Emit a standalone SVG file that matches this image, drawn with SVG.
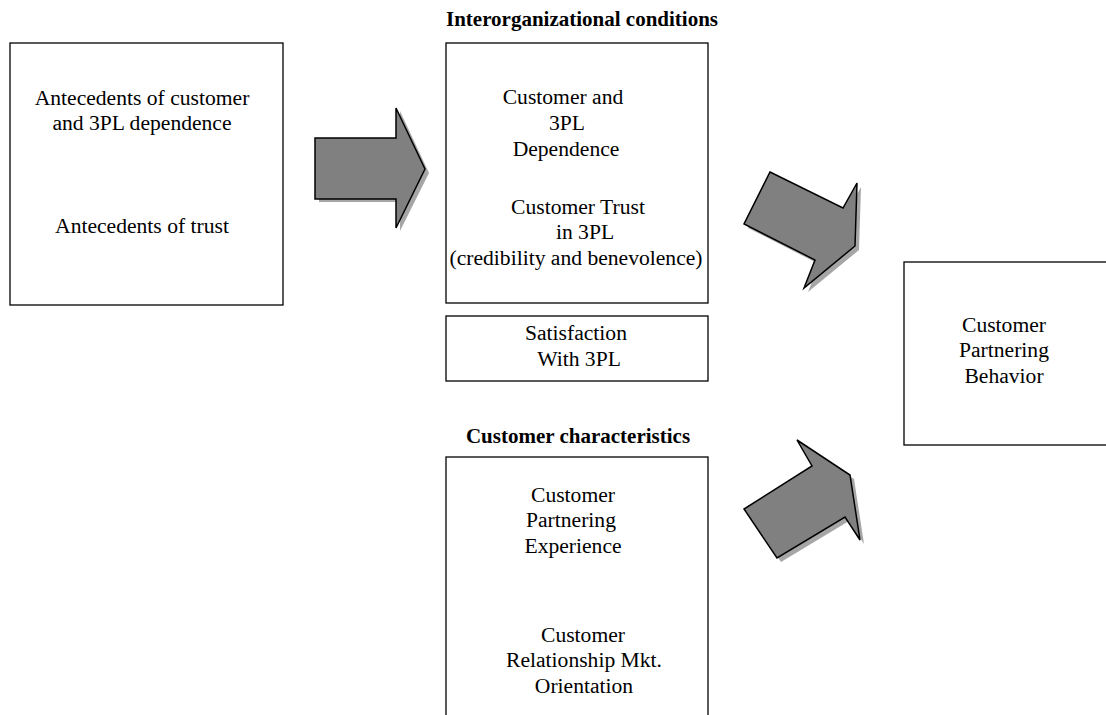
<svg xmlns="http://www.w3.org/2000/svg" width="1106" height="715" viewBox="0 0 1106 715">
<style>
.box{fill:#fff;stroke:#000;stroke-width:1.3}
.t{font-family:"Liberation Serif","Times New Roman",serif;font-size:21.6px;fill:#000;text-anchor:middle}
.h{font-family:"Liberation Serif","Times New Roman",serif;font-size:21px;font-weight:bold;fill:#000;text-anchor:middle}
.arr{fill:#808080;stroke:#000;stroke-width:1.5;stroke-linejoin:miter}
.shd{fill:#a6a6a6;stroke:none}
</style>
<rect width="1106" height="715" fill="#fff"/>
<text class="h" x="582" y="26">Interorganizational conditions</text>
<text class="h" x="578" y="443">Customer characteristics</text>
<g id="antecedents">
<rect class="box" x="10" y="43" width="273" height="262"/>
<text class="t" x="142" y="105">Antecedents of customer</text>
<text class="t" x="142" y="130">and 3PL dependence</text>
<text class="t" x="142" y="233">Antecedents of trust</text>
</g>
<g id="interorg">
<rect class="box" x="446" y="43" width="262" height="260"/>
<text class="t" x="563" y="104">Customer and</text>
<text class="t" x="567" y="130">3PL</text>
<text class="t" x="566" y="156">Dependence</text>
<text class="t" x="578" y="214">Customer Trust</text>
<text class="t" x="585" y="239">in 3PL</text>
<text class="t" x="576" y="265">(credibility and benevolence)</text>
</g>
<g id="satisfaction">
<rect class="box" x="446" y="316" width="262" height="65"/>
<text class="t" x="576" y="340">Satisfaction</text>
<text class="t" x="579" y="366">With 3PL</text>
</g>
<g id="customer-char">
<rect class="box" x="446" y="457" width="262" height="270"/>
<text class="t" x="573" y="502">Customer</text>
<text class="t" x="571" y="527">Partnering</text>
<text class="t" x="573" y="553">Experience</text>
<text class="t" x="583" y="642">Customer</text>
<text class="t" x="584" y="667">Relationship Mkt.</text>
<text class="t" x="584" y="693">Orientation</text>
</g>
<g id="behavior">
<rect class="box" x="904" y="262" width="220" height="183"/>
<text class="t" x="1004" y="332">Customer</text>
<text class="t" x="1004" y="357">Partnering</text>
<text class="t" x="1004" y="383">Behavior</text>
</g>
<g id="connectors">
<polygon class="shd" points="319,141 400,141 400,111 429,173 400,231 400,202 319,202"/>
<polygon class="arr" points="315,138 396,138 396,108 425,169 396,228 396,199 315,199"/>
<polygon class="shd" points="774,176 847,212 861,187 859,250 808,292 819,264 748,228"/>
<polygon class="arr" points="770,172 843,208 857,183 855,246 804,288 815,260 744,224"/>
<polygon class="shd" points="801,444 854,479 864,544 849,521 781,562 748,513 816,470"/>
<polygon class="arr" points="797,440 850,475 860,540 845,517 777,558 744,509 812,466"/>
</g>
</svg>
